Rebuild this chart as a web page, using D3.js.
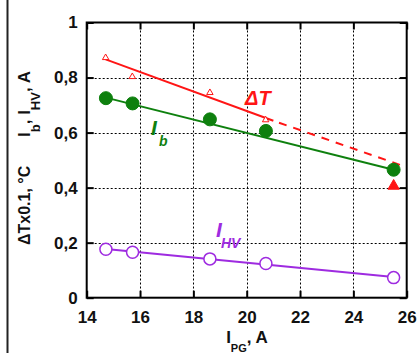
<!DOCTYPE html>
<html>
<head>
<meta charset="utf-8">
<script src="https://cdn.jsdelivr.net/npm/d3@7"></script>
<style>
  html, body { margin: 0; padding: 0; background: #ffffff; }
  svg { display: block; }
  text { font-family: "Liberation Sans", Arial, sans-serif; }
</style>
</head>
<body>
<svg id="chart" width="417" height="353"></svg>
<script>
// Plasma generator current, A
const currentPG = [14.72, 15.72, 18.62, 20.72, 25.51];
// Beam current I_b, A
const ibValues = [0.725, 0.706, 0.648, 0.606, 0.465];
// High-voltage current I_HV, A
const ihvValues = [0.176, 0.165, 0.141, 0.124, 0.073];
// Temperature rise ΔT (×0.1 °C), open markers
const dTCurrent = [14.71, 15.71, 18.62, 20.71];
const dTValues = [0.872, 0.803, 0.745, 0.646];
// Separate ΔT point at the highest current (filled marker)
const dTExtraCurrent = [25.51];
const dTExtraValues = [0.406];

// Linear trend lines [current, value]
const ibFit = [[14.72, 0.727], [25.51, 0.465]];
const ihvFit = [[14.72, 0.177], [25.51, 0.075]];
const dTFitSolid = [[14.71, 0.866], [21.0, 0.643]];
const dTFitDashed = [[21.0, 0.643], [25.8, 0.481]];

// Axis ticks
const xTicks = [14, 16, 18, 20, 22, 24, 26];
const yTicks = [0, 0.2, 0.4, 0.6, 0.8, 1];
const xGrid = [16, 18, 20, 22, 24];
const yGrid = [0.2, 0.4, 0.6, 0.8];

const colors = { dT: "#ff1515", ib: "#0e800e", ihv: "#9e2be0" };

const svg = d3.select("#chart");
const W = 417, H = 353;
const m = { left: 86.7, right: 10.3, top: 22.5, bottom: 55.3 };

const x = d3.scaleLinear().domain([14, 26]).range([m.left, W - m.right]);
const y = d3.scaleLinear().domain([0, 1]).range([H - m.bottom, m.top]);

const loc = d3.formatLocale({ decimal: ",", thousands: " ", grouping: [3], currency: ["", ""] });
const fmt = loc.format("~f");

// outer frame line on the left
svg.append("line")
  .attr("x1", 7.5).attr("x2", 7.5).attr("y1", 0).attr("y2", H)
  .attr("stroke", "#222").attr("stroke-width", 2);

// dotted grid
const grid = svg.append("g").attr("stroke", "#000").attr("stroke-width", 1)
  .attr("stroke-dasharray", "2,2");
grid.selectAll(".gx").data(xGrid).join("line")
  .attr("x1", d => Math.round(x(d)) + 0.5).attr("x2", d => Math.round(x(d)) + 0.5)
  .attr("y1", y(1)).attr("y2", y(0));
grid.selectAll(".gy").data(yGrid).join("line")
  .attr("y1", d => Math.round(y(d)) + 0.5).attr("y2", d => Math.round(y(d)) + 0.5)
  .attr("x1", x(14)).attr("x2", x(26));

// axes with inward ticks
const tickLen = 7;
function styleAxis(g) {
  g.select(".domain").remove();
  g.selectAll(".tick line").attr("stroke", "#000").attr("stroke-width", 2);
  g.selectAll("text").attr("font-size", "17px").attr("font-weight", "bold").attr("fill", "#111");
}
svg.append("g").attr("transform", `translate(0,${y(0)})`)
  .call(d3.axisBottom(x).tickValues(xTicks).tickSize(-tickLen).tickPadding(13).tickFormat(d3.format("d")))
  .call(styleAxis);
svg.append("g").attr("transform", `translate(0,${y(1)})`)
  .call(d3.axisTop(x).tickValues(xTicks).tickSize(-tickLen).tickFormat(""))
  .call(styleAxis);
svg.append("g").attr("transform", `translate(${x(14)},0)`)
  .call(d3.axisLeft(y).tickValues(yTicks).tickSize(-tickLen).tickPadding(9).tickFormat(fmt))
  .call(styleAxis);
svg.append("g").attr("transform", `translate(${x(26)},0)`)
  .call(d3.axisRight(y).tickValues(yTicks).tickSize(-tickLen).tickFormat(""))
  .call(styleAxis);

// trend lines
const line = d3.line().x(d => x(d[0])).y(d => y(d[1]));
svg.append("path").datum(ihvFit).attr("d", line)
  .attr("fill", "none").attr("stroke", colors.ihv).attr("stroke-width", 2);
svg.append("path").datum(ibFit).attr("d", line)
  .attr("fill", "none").attr("stroke", colors.ib).attr("stroke-width", 2);
svg.append("path").datum(dTFitSolid).attr("d", line)
  .attr("fill", "none").attr("stroke", colors.dT).attr("stroke-width", 2);
svg.append("path").datum(dTFitDashed).attr("d", line)
  .attr("fill", "none").attr("stroke", colors.dT).attr("stroke-width", 2)
  .attr("stroke-dasharray", "8,7").attr("stroke-dashoffset", -6);

// markers
svg.append("g").selectAll("circle").data(currentPG.map((c, i) => [c, ihvValues[i]])).join("circle")
  .attr("cx", d => x(d[0])).attr("cy", d => y(d[1])).attr("r", 6)
  .attr("fill", "#fff").attr("stroke", colors.ihv).attr("stroke-width", 1.5);
svg.append("g").selectAll("circle").data(currentPG.map((c, i) => [c, ibValues[i]])).join("circle")
  .attr("cx", d => x(d[0])).attr("cy", d => y(d[1])).attr("r", 6.5)
  .attr("fill", colors.ib).attr("stroke", colors.ib).attr("stroke-width", 1);
const triSmall = d3.symbol().type(d3.symbolTriangle).size(18);
svg.append("g").selectAll("path").data(dTCurrent.map((c, i) => [c, dTValues[i]])).join("path")
  .attr("transform", d => `translate(${x(d[0])},${y(d[1])})`)
  .attr("d", triSmall).attr("fill", "#fff").attr("stroke", colors.dT).attr("stroke-width", 1);
const triBig = d3.symbol().type(d3.symbolTriangle).size(55);
svg.append("g").selectAll("path").data(dTExtraCurrent.map((c, i) => [c, dTExtraValues[i]])).join("path")
  .attr("transform", d => `translate(${x(d[0])},${y(d[1])})`)
  .attr("d", triBig).attr("fill", colors.dT).attr("stroke", colors.dT);

// plot frame
svg.append("rect").attr("x", x(14)).attr("y", y(1))
  .attr("width", x(26) - x(14)).attr("height", y(0) - y(1))
  .attr("fill", "none").attr("stroke", "#000").attr("stroke-width", 2);

// series labels
svg.append("text").attr("x", 245).attr("y", 105)
  .attr("font-size", "20px").attr("font-weight", "bold").attr("font-style", "italic")
  .attr("fill", colors.dT).text("ΔT");
const ibLab = svg.append("g").attr("fill", colors.ib).attr("font-weight", "bold").attr("font-style", "italic");
ibLab.append("text").attr("x", 151).attr("y", 135).attr("font-size", "21px").text("I");
ibLab.append("text").attr("x", 159).attr("y", 146).attr("font-size", "14px").text("b");
const hvLab = svg.append("g").attr("fill", colors.ihv).attr("font-weight", "bold").attr("font-style", "italic");
hvLab.append("text").attr("x", 216).attr("y", 237).attr("font-size", "21px").text("I");
hvLab.append("text").attr("x", 221).attr("y", 248).attr("font-size", "14px").text("HV");

// y-axis title (rotated)
const yt = svg.append("g").attr("transform", "translate(30,0)");
yt.append("text").attr("transform", "translate(0,245) rotate(-90)")
  .attr("font-size", "16px").attr("font-weight", "bold").attr("fill", "#111")
  .text("ΔTx0.1, °C");
const yt2 = yt.append("text").attr("transform", "translate(0,137) rotate(-90)")
  .attr("font-size", "17px").attr("font-weight", "bold").attr("fill", "#111");
yt2.append("tspan").text("I");
yt2.append("tspan").attr("font-size", "13px").attr("dy", 10).text("b");
yt2.append("tspan").attr("dy", -10).text(", I");
yt2.append("tspan").attr("font-size", "13px").attr("dy", 10).text("HV");
yt2.append("tspan").attr("dy", -10).text(", A");

// x-axis title
const xt = svg.append("text").attr("x", 247).attr("y", 343).attr("text-anchor", "middle")
  .attr("font-size", "17px").attr("font-weight", "bold").attr("fill", "#111");
xt.append("tspan").text("I");
xt.append("tspan").attr("font-size", "11px").attr("dy", 9).text("PG");
xt.append("tspan").attr("dy", -9).text(", A");
</script>
</body>
</html>
